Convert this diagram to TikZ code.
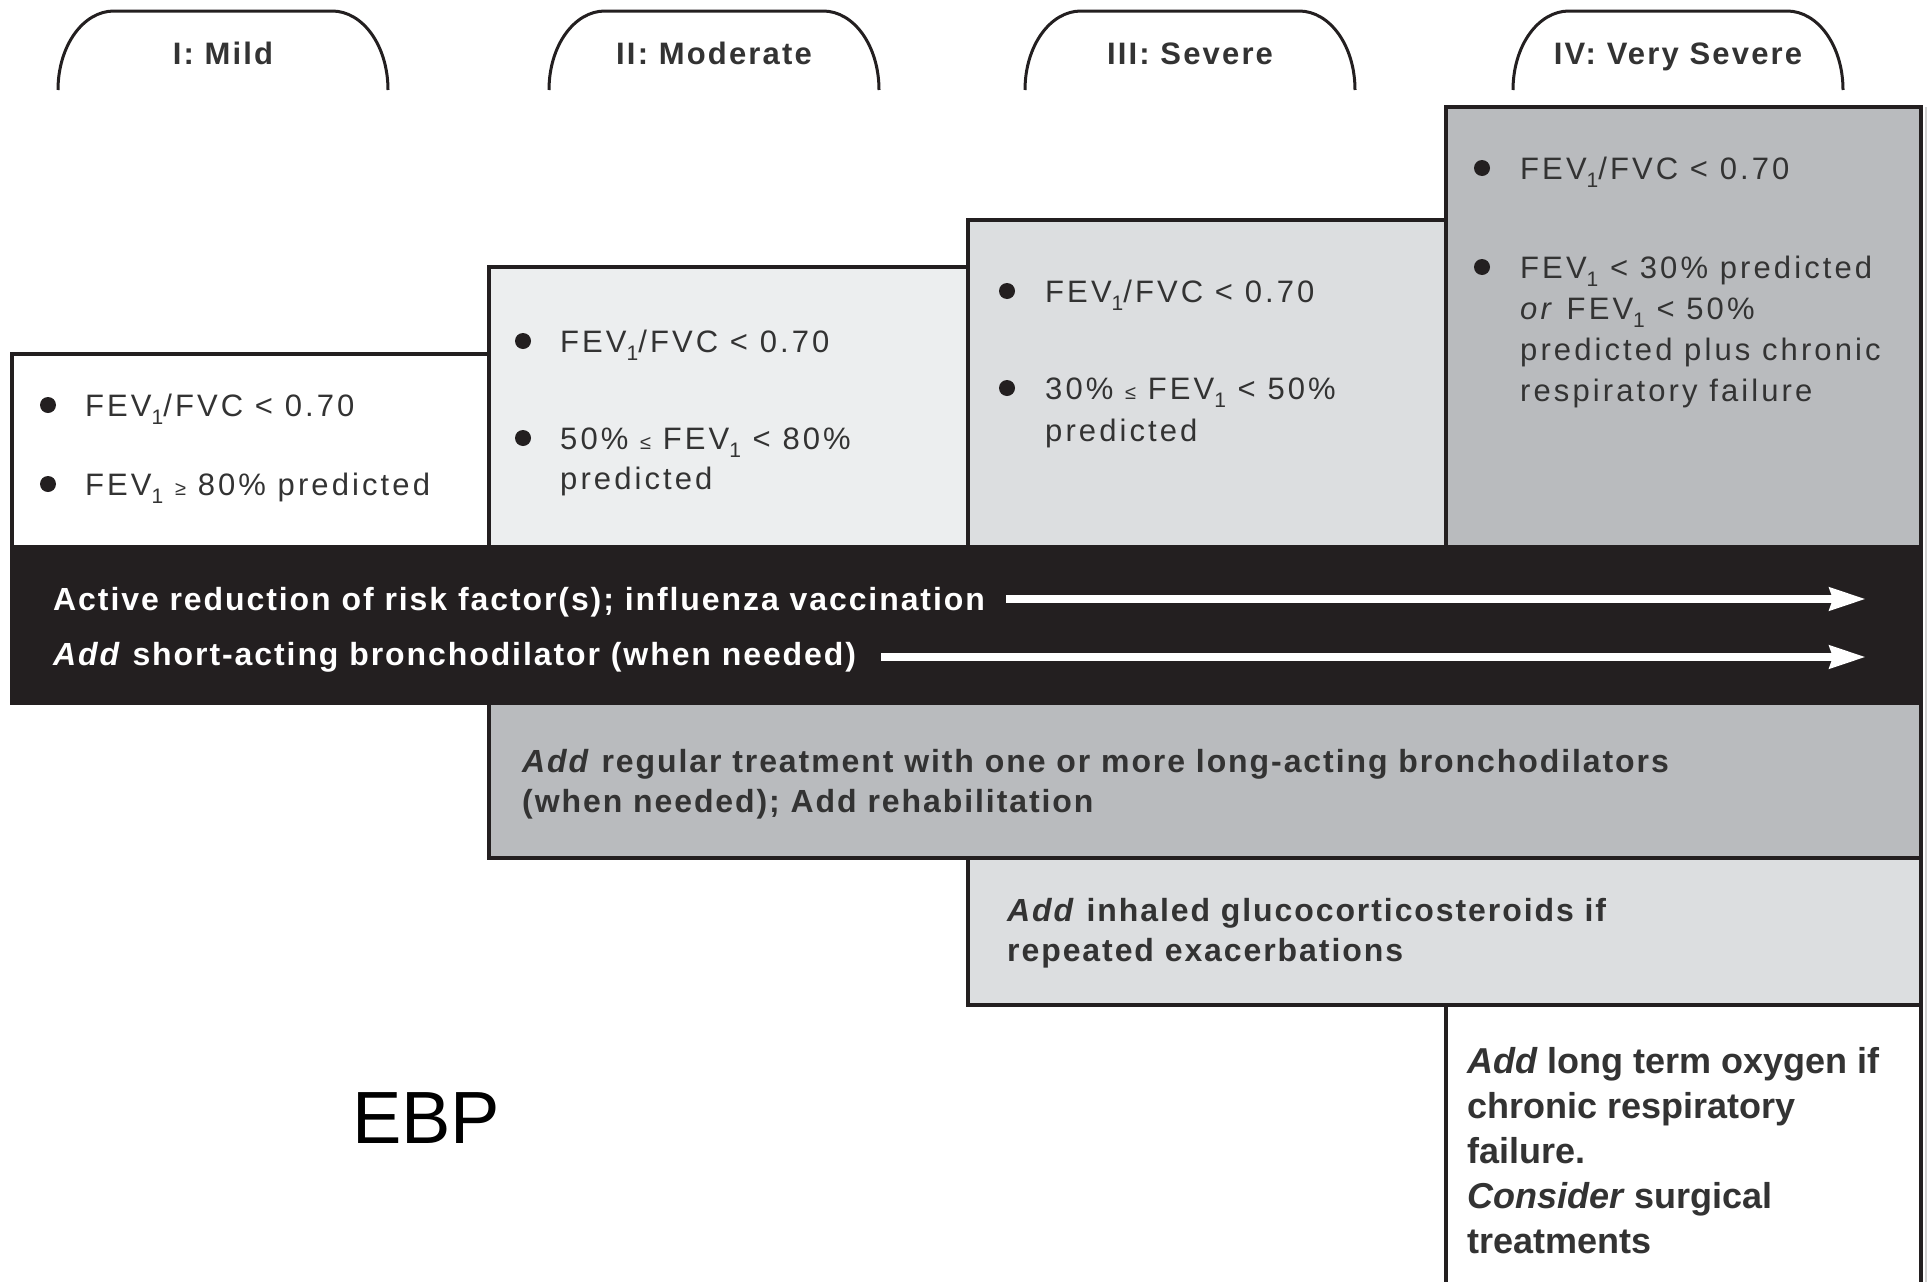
\documentclass[tikz,border=0pt]{standalone}
\usepackage{fontspec}
\setmainfont{Liberation Sans}
\newfontfamily\trkreg{Liberation Sans}[LetterSpace=10]
\newfontfamily\trkbold{Liberation Sans}[LetterSpace=6]
\newfontfamily\trktab{Liberation Sans}[LetterSpace=7]
\usetikzlibrary{arrows.meta}
\definecolor{ink}{HTML}{231F20}
\definecolor{txt}{HTML}{333333}
\definecolor{boxtwo}{HTML}{ECEEEF}
\definecolor{boxthree}{HTML}{DCDEE0}
\definecolor{boxfour}{HTML}{B9BBBE}
\newcommand\lsub[1]{\raisebox{-0.27em}{\fontsize{21}{21}\selectfont #1}}
\newcommand\smrel[1]{{\fontsize{20}{20}\selectfont #1}}
\newcommand\tabarch[2]{\draw[tabline] (#1,90) .. controls (#1,46) and (#1+25,11) .. (#1+56,11) -- (#2-56,11) .. controls (#2-25,11) and (#2,46) .. (#2,90);}
\tikzset{
 bline/.style={draw=ink, line width=3.2pt},
 tabline/.style={draw=ink, line width=3pt},
 bul/.style={circle, fill=ink, inner sep=0pt, minimum size=16pt},
 ctext/.style={anchor=base west, inner sep=0pt, text=txt, font=\trkreg\fontsize{31}{41}\selectfont},
 btext/.style={anchor=base west, inner sep=0pt, text=txt, font=\trkbold\bfseries\fontsize{32}{40}\selectfont},
 wtext/.style={btext, text=white},
 otext/.style={anchor=base west, inner sep=0pt, text=txt, font=\bfseries\fontsize{36}{45}\selectfont},
 tabtext/.style={anchor=base, inner sep=0pt, text=txt, font=\trktab\bfseries\fontsize{31}{36}\selectfont},
 warrow/.style={draw=white, line width=8pt, -{Stealth[length=36pt,width=22pt,inset=3pt]}},
}
\begin{document}
\begin{tikzpicture}[x=1pt,y=-1pt]
\useasboundingbox (0,0) rectangle (1930,1282);
\fill[white] (0,0) rectangle (1930,1282);
% faint right edge line
\draw[gray!35, line width=1.2pt] (1926,107) -- (1926,1282);
% tabs
\tabarch{58}{388}
\tabarch{549}{879}
\tabarch{1025}{1355}
\tabarch{1513}{1843}
\node[tabtext] (tab1) at (223,64) {I: Mild};
\node[tabtext] (tab2) at (714,64) {II: Moderate};
\node[tabtext] (tab3) at (1190,64) {III: Severe};
\node[tabtext] (tab4) at (1678,64) {IV: Very Severe};
% stage boxes
\filldraw[bline, fill=white] (12,354) rectangle (489,547);
\filldraw[bline, fill=boxtwo] (489,267) rectangle (968,547);
\filldraw[bline, fill=boxthree] (968,220) rectangle (1446,547);
\filldraw[bline, fill=boxfour] (1446,107) rectangle (1921,547);
% treatment boxes
\filldraw[bline, fill=boxfour] (489,703) rectangle (1921,858);
\filldraw[bline, fill=boxthree] (968,858) rectangle (1921,1005);
\fill[white] (1446,1005) rectangle (1921,1282);
\draw[bline] (1446,1290) -- (1446,1005) -- (1921,1005) -- (1921,1290);
% band
\filldraw[bline, fill=ink] (12,547) rectangle (1921,703);
% box I
\node[bul] (b1a) at (48,405) {};
\node[ctext] (s1a) at (85,416) {FEV\lsub{1}/FVC < 0.70};
\node[bul] (b1b) at (48,484) {};
\node[ctext] (s1b) at (85,495) {FEV\lsub{1} \smrel{≥} 80\% predicted};
% box II
\node[bul] (b2a) at (523,341) {};
\node[ctext] (s2a) at (560,352) {FEV\lsub{1}/FVC < 0.70};
\node[bul] (b2b) at (523,438) {};
\node[ctext] (s2b) at (560,449) {50\% \smrel{≤} FEV\lsub{1} < 80\%};
\node[ctext] (s2c) at (560,489) {predicted};
% box III
\node[bul] (b3a) at (1007,291) {};
\node[ctext] (s3a) at (1045,302) {FEV\lsub{1}/FVC < 0.70};
\node[bul] (b3b) at (1007,388) {};
\node[ctext] (s3b) at (1045,399) {30\% \smrel{≤} FEV\lsub{1} < 50\%};
\node[ctext] (s3c) at (1045,441) {predicted};
% box IV
\node[bul] (b4a) at (1482,168) {};
\node[ctext] (s4a) at (1520,179) {FEV\lsub{1}/FVC < 0.70};
\node[bul] (b4b) at (1482,267) {};
\node[ctext] (s4b) at (1520,278) {FEV\lsub{1} < 30\% predicted};
\node[ctext] (s4c) at (1520,319) {\textit{or} FEV\lsub{1} < 50\%};
\node[ctext] (s4d) at (1520,360) {predicted plus chronic};
\node[ctext] (s4e) at (1520,401) {respiratory failure};
% band texts and arrows
\node[wtext] (w1) at (53,610) {Active reduction of risk factor(s); influenza vaccination};
\node[wtext] (w2) at (53,665) {\textit{Add} short-acting bronchodilator (when needed)};
\coordinate (a1s) at (1006,599);
\coordinate (a1e) at (1866,599);
\coordinate (a2s) at (881,657);
\coordinate (a2e) at (1866,657);
\draw[warrow] (a1s) -- (a1e);
\draw[warrow] (a2s) -- (a2e);
% treatment texts
\node[btext] (r1) at (522,772) {\textit{Add} regular treatment with one or more long-acting bronchodilators};
\node[btext] (r2) at (522,812) {(when needed); Add rehabilitation};
\node[btext] (g1) at (1007,921) {\textit{Add} inhaled glucocorticosteroids if};
\node[btext] (g2) at (1007,961) {repeated exacerbations};
\node[otext] (o1) at (1467,1073) {\textit{Add} long term oxygen if};
\node[otext] (o2) at (1467,1118) {chronic respiratory};
\node[otext] (o3) at (1467,1163) {failure.};
\node[otext] (o4) at (1467,1208) {\textit{Consider} surgical};
\node[otext] (o5) at (1467,1253) {treatments};
% label
\node[anchor=base west, inner sep=0pt, font=\fontsize{74}{80}\selectfont] (ebp) at (352,1143) {EBP};
\end{tikzpicture}
\end{document}
